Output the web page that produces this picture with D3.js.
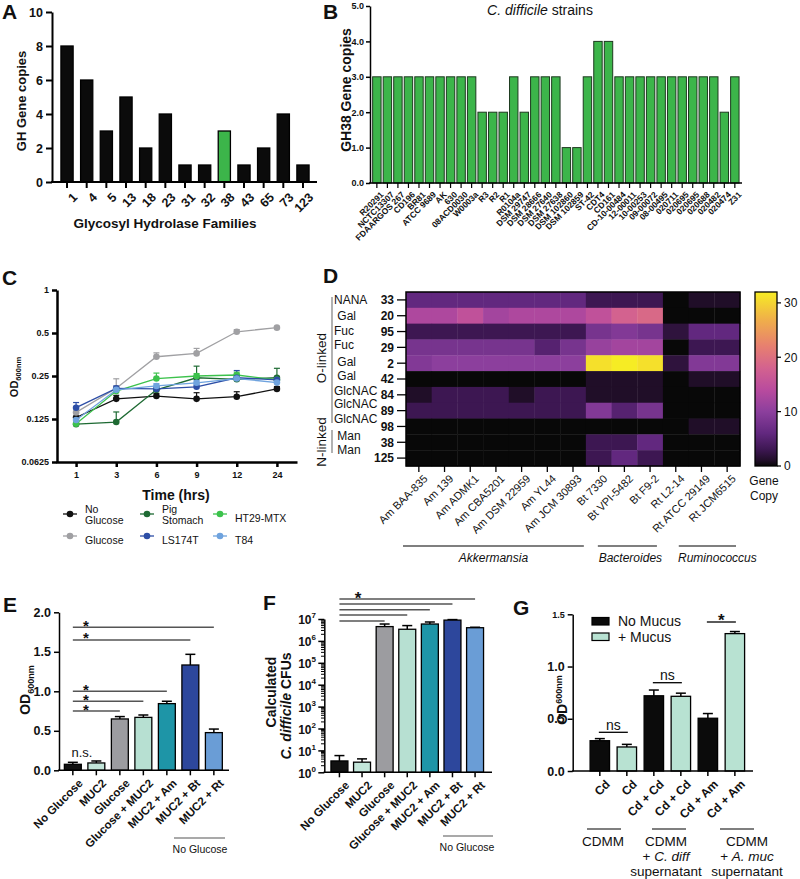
<!DOCTYPE html>
<html><head><meta charset="utf-8">
<script src="https://cdn.jsdelivr.net/npm/d3@7/dist/d3.min.js"></script>
<style>
html,body{margin:0;padding:0;background:#fff;}
svg{display:block;}
text{font-family:"Liberation Sans",Arial,Helvetica,sans-serif;fill:#111;}
</style></head><body>
<svg id="fig" width="800" height="879"></svg>
<script>
// ---------- Panel A ----------
const ghFamilies = ["1","4","5","13","18","23","31","32","38","43","65","73","123"];
const ghCopies = [8,6,3,5,2,4,1,1,3,1,2,4,1];
const ghHighlight = "38";
const ghTicks = [0,2,4,6,8,10];
// ---------- Panel B ----------
const strainNames = ["R20291","NCTC13307","FDAARGOS 267","CD196","BR81","ATCC 9689","AK","630","08ACD0030","W0003a",
  "R3","R2","R1","R0104a","DSM 29747","DSM 28666","DSM 27640","DSM 27638","DSM 102860","DSM 102859","ST-42","CDT4","CD161",
  "CD-10-00484","12-00011","10-00253","09-00072","08-00495","020711","020695","020695","020688","020482","020474","Z31"];
const gh38Copies = [3,3,3,3,3,3,3,3,3,3, 2,2,2, 3, 2, 3, 3,3, 1,1, 3, 4,4, 3,3,3,3,3,3,3,3,3,3, 2, 3];
const gh38Ticks = [0,1,2,3,4,5];
// ---------- Panel C ----------
const timePoints = [1,3,6,9,12,24];
const odTicksC = [0.0625,0.125,0.25,0.5,1];
const odNoGlucose = [0.128,0.173,0.181,0.173,0.179,0.203];
const errNoGlucose = [0.010,0.010,0.008,0.018,0.015,0.008];
const odGlucose = [0.139,0.205,0.341,0.360,0.510,0.545];
const errGlucose = [0.010,0.034,0.022,0.030,0.018,0.008];
const odPigStomach = [0.115,0.119,0.200,0.243,0.237,0.243];
const errPigStomach = [0.006,0.021,0.010,0.050,0.020,0.040];
const odHT29 = [0.116,0.196,0.240,0.250,0.254,0.235];
const errHT29 = [0.004,0.008,0.022,0.010,0.012,0.010];
const odLS174T = [0.150,0.205,0.203,0.210,0.243,0.235];
const errLS174T = [0.013,0.008,0.008,0.010,0.030,0.010];
const odT84 = [0.123,0.200,0.213,0.224,0.240,0.225];
const errT84 = [0.006,0.008,0.008,0.008,0.010,0.008];
// ---------- Panel D ----------
const heatRows = ["33","20","95","29","2","42","84","89","98","38","125"];
const heatSugars = ["NANA"," Gal","Fuc","Fuc"," Gal"," Gal","GlcNAC","GlcNAC","GlcNAC"," Man"," Man"];
const heatColumns = ["Am BAA-835","Am 139","Am ADMK1","Am CBA5201","Am DSM 22959","Am YL44","Am JCM 30893",
  "Bt 7330","Bt VPI-5482","Bt F9-2","Rt L2-14","Rt ATCC 29149","Rt JCM6515"];
const heatValues = [
  [6,6,6,6,6,6,6, 3,3,3, 0,1,1],
  [13,13,15,12,13,13,13, 15,18,19, 0,0,0],
  [3,3,3,3,3,3,3, 8,9,8, 2,6,6],
  [8,8,8,8,8,5,8, 11,12,12, 0,3,3],
  [9,10,10,10,10,10,10, 31,32,31, 2,9,9],
  [0,0,0,0,0,0,0, 1,1,1, 0,1,1],
  [1,3,3,3,1,3,3, 1,1,1, 0,0,0],
  [3,3,3,3,3,3,3, 9,5,8, 0,0,0],
  [0,0,0,0,0,0,0, 0,0,0, 0,1,1],
  [0,0,0,0,0,0,0, 3,3,6, 0,0,0],
  [0,0,0,0,0,0,0, 3,6,3, 0,0,0]
];
const heatGenera = ["Akkermansia","Bacteroides","Ruminococcus"];
const genusSpans = [[0,6],[7,9],[10,12]];
const colorbarTicks = [0,10,20,30];
// ---------- Panel E ----------
const condE = ["No Glucose","MUC2","Glucose","Glucose + MUC2","MUC2 + Am","MUC2 + Bt","MUC2 + Rt"];
const odE = [0.076,0.093,0.65,0.67,0.844,1.333,0.477];
const odErrE = [0.025,0.025,0.03,0.03,0.03,0.135,0.045];
const sigTargetsE = ["MUC2 + Rt","MUC2 + Bt","MUC2 + Am","Glucose + MUC2","Glucose"];
const sigLevelsE = [1.81,1.65,1.0,0.875,0.75];
const ticksE = [0,0.5,1.0,1.5,2.0];
// ---------- Panel F ----------
const cfuF = [3.3,2.9,4.5e6,3.4e6,5.9e6,8.9e6,4.0e6];
const cfuErrF = [2.5,1.2,1.4e6,1.6e6,1.4e6,0.5e6,0.2e6];
const sigTargetsF = ["MUC2 + Rt","MUC2 + Bt","MUC2 + Am","Glucose + MUC2","Glucose"];
const sigLevelsF = [7.91,7.68,7.42,7.18,6.91];
// ---------- Panel G ----------
const labelsG = ["Cd","Cd","Cd + Cd","Cd + Cd","Cd + Am","Cd + Am"];
const odG = [0.29,0.23,0.72,0.715,0.505,1.315];
const odErrG = [0.02,0.025,0.055,0.03,0.045,0.02];
const mucusG = [false,true,false,true,false,true];
const ticksG = [0,0.5,1.0,1.5];
const mediaG = [["CDMM"],["CDMM","+ C. diff","supernatant"],["CDMM","+ A. muc","supernatant"]];

// ================= drawing =================
const svg = d3.select("#fig");
const BLACK = "#0b0b0b";

function styleAxis(g, w, fs, bold){
  g.select(".domain").attr("stroke","#000").attr("stroke-width",w);
  g.selectAll(".tick line").attr("stroke","#000").attr("stroke-width",w);
  g.selectAll(".tick text").attr("font-size",fs).attr("font-weight",bold?"bold":"normal").attr("fill","#111")
   .style("font-family",'"Liberation Sans",Arial,sans-serif');
}
function letter(t,x,y){ svg.append("text").attr("x",x).attr("y",y).attr("font-size",21).attr("font-weight","bold").text(t); }
letter("A",2,19); letter("B",323,19); letter("C",2,285); letter("D",323,283);
letter("E",3,612); letter("F",263,610); letter("G",513,615);

// ---------- A ----------
(function(){
  const g = svg.append("g");
  const x = d3.scaleBand().domain(ghFamilies).range([57,313]).paddingInner(0.38).paddingOuter(0.2);
  const y = d3.scaleLinear().domain([0,10]).range([182,12]);
  g.selectAll("rect").data(ghFamilies).join("rect")
    .attr("x",d=>x(d)).attr("y",(d,i)=>y(ghCopies[i])).attr("width",x.bandwidth())
    .attr("height",(d,i)=>y(0)-y(ghCopies[i]))
    .attr("fill",d=>d===ghHighlight?"#3cb54a":BLACK).attr("stroke","#000").attr("stroke-width",1.3);
  const ya = g.append("g").attr("transform","translate(52,0)").call(d3.axisLeft(y).tickValues(ghTicks).tickSize(6).tickSizeOuter(0).tickPadding(3));
  styleAxis(ya,2,12.5,true);
  g.append("line").attr("x1",51).attr("x2",317).attr("y1",182).attr("y2",182).attr("stroke","#000").attr("stroke-width",2);
  ghFamilies.forEach(d=>{
    const cx = x(d)+x.bandwidth()/2;
    g.append("line").attr("x1",cx).attr("x2",cx).attr("y1",182).attr("y2",188).attr("stroke","#000").attr("stroke-width",2);
    g.append("text").attr("transform",`translate(${cx+5},${192}) rotate(-45)`).attr("text-anchor","end").attr("dy","0.7em")
      .attr("font-size",12.5).attr("font-weight","bold").text(d);
  });
  g.append("text").attr("x",165).attr("y",228).attr("text-anchor","middle").attr("font-size",13.5).attr("font-weight","bold").text("Glycosyl Hydrolase Families");
  g.append("text").attr("transform","translate(26,101) rotate(-90)").attr("text-anchor","middle").attr("font-size",13).attr("font-weight","bold").text("GH Gene copies");
})();

// ---------- B ----------
(function(){
  const g = svg.append("g");
  const idx = d3.range(strainNames.length);
  const x = d3.scaleBand().domain(idx).range([371.6,740.1]).paddingInner(0.2).paddingOuter(0.1);
  const y = d3.scaleLinear().domain([0,5]).range([183,6]);
  g.selectAll("rect").data(idx).join("rect")
    .attr("x",i=>x(i)).attr("y",i=>y(gh38Copies[i])).attr("width",x.bandwidth())
    .attr("height",i=>y(0)-y(gh38Copies[i]))
    .attr("fill","#3cb54a").attr("stroke","#1d3a1f").attr("stroke-width",1);
  const ya = g.append("g").attr("transform","translate(370,0)").call(d3.axisLeft(y).tickValues(gh38Ticks).tickSize(4).tickSizeOuter(0).tickPadding(2));
  styleAxis(ya,1.5,9,true);
  g.append("line").attr("x1",369).attr("x2",742).attr("y1",183).attr("y2",183).attr("stroke","#000").attr("stroke-width",1.5);
  idx.forEach(i=>{
    const cx = x(i)+x.bandwidth()/2;
    g.append("line").attr("x1",cx).attr("x2",cx).attr("y1",183).attr("y2",188).attr("stroke","#000").attr("stroke-width",1.2);
    g.append("text").attr("transform",`translate(${cx+3},${191}) rotate(-45)`).attr("text-anchor","end").attr("dy","0.7em")
      .attr("font-size",8.5).attr("font-weight","bold").text(strainNames[i]);
  });
  const t = g.append("text").attr("x",540).attr("y",15).attr("text-anchor","middle").attr("font-size",14);
  t.append("tspan").attr("font-style","italic").text("C. difficile");
  t.append("tspan").text(" strains");
  g.append("text").attr("transform","translate(351,90) rotate(-90)").attr("text-anchor","middle").attr("font-size",14).attr("font-weight","bold").text("GH38 Gene copies");
})();

// ---------- C ----------
(function(){
  const g = svg.append("g");
  const x = d3.scalePoint().domain(timePoints).range([56,297]).padding(0.5);
  const y = d3.scaleLog().base(2).domain([0.0625,1]).range([462,290]);
  const ya = g.append("g").attr("transform","translate(57,0)").call(d3.axisLeft(y).tickValues(odTicksC).tickFormat(d=>String(d)).tickSize(5).tickSizeOuter(0).tickPadding(3));
  styleAxis(ya,2.5,9,true);
  const xa = g.append("g").attr("transform","translate(0,462)").call(d3.axisBottom(x).tickSize(5).tickSizeOuter(0).tickPadding(5));
  styleAxis(xa,2.5,9,true);
  const series = [
    {name:"No Glucose", v:odNoGlucose, e:errNoGlucose, c:"#111111"},
    {name:"Glucose", v:odGlucose, e:errGlucose, c:"#a0a0a3"},
    {name:"Pig Stomach", v:odPigStomach, e:errPigStomach, c:"#1e6a33"},
    {name:"HT29-MTX", v:odHT29, e:errHT29, c:"#3cc24c"},
    {name:"LS174T", v:odLS174T, e:errLS174T, c:"#2d4ea6"},
    {name:"T84", v:odT84, e:errT84, c:"#6fa3de"}
  ];
  const line = d3.line().x((d,i)=>x(timePoints[i])).y(d=>y(d));
  series.forEach(s=>{
    s.v.forEach((v,i)=>{
      const cx = x(timePoints[i]), y0 = y(v), y1 = y(v+s.e[i]);
      g.append("line").attr("x1",cx).attr("x2",cx).attr("y1",y0).attr("y2",y1).attr("stroke",s.c).attr("stroke-width",1.2);
      g.append("line").attr("x1",cx-3).attr("x2",cx+3).attr("y1",y1).attr("y2",y1).attr("stroke",s.c).attr("stroke-width",1.2);
    });
  });
  series.forEach(s=>{
    g.append("path").datum(s.v).attr("d",line).attr("fill","none").attr("stroke",s.c).attr("stroke-width",1.3);
    g.selectAll(null).data(s.v).join("circle").attr("cx",(d,i)=>x(timePoints[i])).attr("cy",d=>y(d)).attr("r",3.3).attr("fill",s.c);
  });
  g.append("text").attr("x",176).attr("y",500).attr("text-anchor","middle").attr("font-size",14).attr("font-weight","bold").text("Time (hrs)");
  const t = g.append("text").attr("transform","translate(18,377) rotate(-90)").attr("text-anchor","middle").attr("font-size",11).attr("font-weight","bold");
  t.append("tspan").text("OD"); t.append("tspan").attr("font-size",7.5).attr("dy",3).text("600nm");
  // legend
  const legPos = [[70,[509,520],["No","Glucose"]],[70,[540],["Glucose"]],[147,[509,520],["Pig","Stomach"]],[220,[518],["HT29-MTX"]],[147,[540],["LS174T"]],[220,[540],["T84"]]];
  const legY = [514,536,514,514,536,536];
  series.forEach((s,i)=>{
    const [mx,ys,lines] = legPos[i];
    const my = legY[i];
    g.append("line").attr("x1",mx-7).attr("x2",mx+7).attr("y1",my).attr("y2",my).attr("stroke",s.c).attr("stroke-width",1.3);
    g.append("circle").attr("cx",mx).attr("cy",my).attr("r",3.3).attr("fill",s.c);
    lines.forEach((l,k)=>g.append("text").attr("x",mx+15).attr("y",ys[k]+4).attr("font-size",10.5).text(l));
  });
})();

// ---------- D ----------
(function(){
  const g = svg.append("g");
  const x = d3.scaleBand().domain(heatColumns).range([406,740]);
  const y = d3.scaleBand().domain(heatRows).range([292,466]);
  const color = d3.scaleLinear()
    .domain([0,1,3,6,10,14,18,22,27,32])
    .range(["#080808","#200e28","#3d1752","#62287f","#8c3f9d","#b94b9e","#d3628f","#e77f70","#f0b049","#f6ec24"])
    .interpolate(d3.interpolateRgb).clamp(true);
  heatRows.forEach((r,ri)=>heatColumns.forEach((c,ci)=>{
    g.append("rect").attr("x",x(c)).attr("y",y(r)).attr("width",x.bandwidth()+0.4).attr("height",y.bandwidth()+0.4)
     .attr("fill",color(heatValues[ri][ci]));
  }));
  g.append("rect").attr("x",406).attr("y",292).attr("width",334).attr("height",174).attr("fill","none").attr("stroke","#000").attr("stroke-width",1.5);
  heatRows.forEach((r,ri)=>{
    const cy = y(r)+y.bandwidth()/2;
    g.append("line").attr("x1",397).attr("x2",406).attr("y1",cy).attr("y2",cy).attr("stroke","#000").attr("stroke-width",1.3);
    g.append("text").attr("x",394).attr("y",cy).attr("dy","0.36em").attr("text-anchor","end").attr("font-size",12).attr("font-weight","bold").text(r);
  });
  const sugarY = [300,315.7,330.3,345,361.7,375.7,391,403.7,419,435.7,450];
  heatSugars.forEach((s,i)=>{
    g.append("text").attr("x",334).attr("y",sugarY[i]).attr("dy","0.36em").attr("font-size",12).style("white-space","pre").text(s);
  });
  g.append("line").attr("x1",332).attr("x2",332).attr("y1",297).attr("y2",423).attr("stroke","#888").attr("stroke-width",1.3);
  g.append("line").attr("x1",332).attr("x2",332).attr("y1",430).attr("y2",453).attr("stroke","#888").attr("stroke-width",1.3);
  g.append("text").attr("transform","translate(326,358) rotate(-90)").attr("text-anchor","middle").attr("font-size",13.5).text("O-linked");
  g.append("text").attr("transform","translate(326,442) rotate(-90)").attr("text-anchor","middle").attr("font-size",13.5).text("N-linked");
  heatColumns.forEach(c=>{
    const cx = x(c)+x.bandwidth()/2;
    g.append("line").attr("x1",cx).attr("x2",cx).attr("y1",466).attr("y2",472).attr("stroke","#000").attr("stroke-width",1.3);
    g.append("text").attr("transform",`translate(${cx+4},${474}) rotate(-45)`).attr("text-anchor","end").attr("dy","0.7em")
      .attr("font-size",11).text(c);
  });
  const bw = x.bandwidth();
  const lineInsets = [[-3,2],[12,6],[bw/2+3,4]];
  const textShift = [0,3,10];
  heatGenera.forEach((gn,i)=>{
    const [a,b] = genusSpans[i];
    const x1 = x(heatColumns[a])+lineInsets[i][0], x2 = x(heatColumns[b])+bw-lineInsets[i][1];
    g.append("line").attr("x1",x1).attr("x2",x2).attr("y1",546).attr("y2",546).attr("stroke","#000").attr("stroke-width",1.2);
    g.append("text").attr("x",(x1+x2)/2+textShift[i]).attr("y",562).attr("text-anchor","middle").attr("font-size",12).attr("font-style","italic").text(gn);
  });
  // colorbar
  const defs = svg.append("defs");
  const grad = defs.append("linearGradient").attr("id","cbar").attr("x1",0).attr("y1",1).attr("x2",0).attr("y2",0);
  color.domain().forEach(v=>grad.append("stop").attr("offset",v/32).attr("stop-color",color(v)));
  const cy = d3.scaleLinear().domain([0,32]).range([466,292]);
  g.append("rect").attr("x",755).attr("y",292).attr("width",22).attr("height",174).attr("fill","url(#cbar)").attr("stroke","#000").attr("stroke-width",1.3);
  colorbarTicks.forEach(v=>{
    g.append("line").attr("x1",777).attr("x2",781).attr("y1",cy(v)).attr("y2",cy(v)).attr("stroke","#000").attr("stroke-width",1.2);
    g.append("text").attr("x",784).attr("y",cy(v)).attr("dy","0.36em").attr("font-size",12).text(v);
  });
  g.append("text").attr("x",764).attr("y",485).attr("text-anchor","middle").attr("font-size",12).text("Gene");
  g.append("text").attr("x",764).attr("y",500).attr("text-anchor","middle").attr("font-size",12).text("Copy");
})();

// ---------- helpers for bar panels ----------
function xTickLabels(g, x, keys, labels, y0, fs){
  keys.forEach((k,i)=>{
    const cx = x(k)+x.bandwidth()/2;
    g.append("line").attr("x1",cx).attr("x2",cx).attr("y1",y0).attr("y2",y0+5).attr("stroke","#000").attr("stroke-width",1.5);
    g.append("text").attr("transform",`translate(${cx+5},${y0+8}) rotate(-45)`).attr("text-anchor","end").attr("dy","0.7em")
      .attr("font-size",fs).attr("font-weight","bold").text(labels[i]);
  });
}
const colorsE = ["#111111","#c3e6da","#9c9ca0","#b7e0d2","#1e95a7","#2d479c","#6a9dd6"];

// ---------- E ----------
(function(){
  const g = svg.append("g");
  const x = d3.scaleBand().domain(condE).range([58.5,228.2]).paddingInner(0.28).paddingOuter(0.25);
  const y = d3.scaleLinear().domain([0,2]).range([770.3,612.3]);
  condE.forEach((c,i)=>{
    const cx = x(c)+x.bandwidth()/2, yt = y(odE[i]+odErrE[i]);
    g.append("line").attr("x1",cx).attr("x2",cx).attr("y1",y(odE[i])).attr("y2",yt).attr("stroke","#000").attr("stroke-width",1.5);
    g.append("line").attr("x1",cx-5).attr("x2",cx+5).attr("y1",yt).attr("y2",yt).attr("stroke","#000").attr("stroke-width",1.5);
  });
  g.selectAll("rect").data(condE).join("rect").attr("x",d=>x(d)).attr("y",(d,i)=>y(odE[i])).attr("width",x.bandwidth())
    .attr("height",(d,i)=>y(0)-y(odE[i])).attr("fill",(d,i)=>colorsE[i]).attr("stroke","#000").attr("stroke-width",1.3);
  const ya = g.append("g").attr("transform","translate(59,0)").call(d3.axisLeft(y).tickValues(ticksE).tickFormat(d3.format(".1f")).tickSize(5).tickSizeOuter(0).tickPadding(3));
  styleAxis(ya,1.5,12.5,true);
  g.append("line").attr("x1",58).attr("x2",229).attr("y1",770.3).attr("y2",770.3).attr("stroke","#000").attr("stroke-width",1.5);
  xTickLabels(g,x,condE,condE,770.3,11.5);
  const x0 = x(condE[0])+x.bandwidth()/2;
  sigTargetsE.forEach((t,i)=>{
    const x1 = x(t)+x.bandwidth()/2, ly = y(sigLevelsE[i]);
    g.append("line").attr("x1",x0).attr("x2",x1).attr("y1",ly).attr("y2",ly).attr("stroke","#555").attr("stroke-width",1.5);
    g.append("text").attr("x",86).attr("y",ly+3.5).attr("text-anchor","middle").attr("font-size",15).attr("font-weight","bold").text("*");
  });
  g.append("text").attr("x",82).attr("y",757).attr("text-anchor","middle").attr("font-size",13).attr("fill","#333").text("n.s.");
  g.append("line").attr("x1",174).attr("x2",225).attr("y1",838).attr("y2",838).attr("stroke","#555").attr("stroke-width",1.2);
  g.append("text").attr("x",200).attr("y",853).attr("text-anchor","middle").attr("font-size",10.5).text("No Glucose");
  const t = g.append("text").attr("transform","translate(30,690) rotate(-90)").attr("text-anchor","middle").attr("font-size",14).attr("font-weight","bold");
  t.append("tspan").text("OD"); t.append("tspan").attr("font-size",9).attr("dy",4).text("600nm");
})();

// ---------- F ----------
(function(){
  const g = svg.append("g");
  const x = d3.scaleBand().domain(condE).range([325.3,489.2]).paddingInner(0.25).paddingOuter(0.25);
  const y = d3.scaleLog().domain([1,1e7]).range([772.3,619]);
  condE.forEach((c,i)=>{
    const cx = x(c)+x.bandwidth()/2, yt = y(cfuF[i]+cfuErrF[i]);
    g.append("line").attr("x1",cx).attr("x2",cx).attr("y1",y(cfuF[i])).attr("y2",yt).attr("stroke","#000").attr("stroke-width",1.5);
    g.append("line").attr("x1",cx-5).attr("x2",cx+5).attr("y1",yt).attr("y2",yt).attr("stroke","#000").attr("stroke-width",1.5);
  });
  g.selectAll("rect").data(condE).join("rect").attr("x",d=>x(d)).attr("y",(d,i)=>y(cfuF[i])).attr("width",x.bandwidth())
    .attr("height",(d,i)=>y(1)-y(cfuF[i])).attr("fill",(d,i)=>colorsE[i]).attr("stroke","#000").attr("stroke-width",1.3);
  const majors = d3.range(0,8).map(e=>Math.pow(10,e));
  const minors = [];
  d3.range(0,7).forEach(e=>d3.range(2,10).forEach(m=>minors.push(m*Math.pow(10,e))));
  const ya = g.append("g").attr("transform","translate(324.3,0)").call(d3.axisLeft(y).tickValues(majors).tickFormat("").tickSize(6).tickSizeOuter(0));
  styleAxis(ya,1.5,12,true);
  minors.forEach(v=>g.append("line").attr("x1",321).attr("x2",324.3).attr("y1",y(v)).attr("y2",y(v)).attr("stroke","#000").attr("stroke-width",1));
  majors.forEach((v,e)=>{
    const t = g.append("text").attr("x",316).attr("y",y(v)).attr("dy","0.45em").attr("text-anchor","end").attr("font-size",12).attr("font-weight","bold");
    t.append("tspan").text("10");
    t.append("tspan").attr("font-size",8).attr("dy",-6).text(e);
  });
  g.append("line").attr("x1",323.5).attr("x2",492).attr("y1",772.3).attr("y2",772.3).attr("stroke","#000").attr("stroke-width",1.5);
  xTickLabels(g,x,condE,condE,772.3,11.5);
  const x0 = x(condE[0])+x.bandwidth()/2;
  sigTargetsF.forEach((t,i)=>{
    const x1 = x(t)+x.bandwidth()/2, ly = y(Math.pow(10,sigLevelsF[i]));
    g.append("line").attr("x1",x0).attr("x2",x1).attr("y1",ly).attr("y2",ly).attr("stroke","#555").attr("stroke-width",1.5);
  });
  g.append("text").attr("x",358).attr("y",604).attr("text-anchor","middle").attr("font-size",17).attr("font-weight","bold").text("*");
  g.append("line").attr("x1",443).attr("x2",493).attr("y1",836).attr("y2",836).attr("stroke","#555").attr("stroke-width",1.2);
  g.append("text").attr("x",467).attr("y",851).attr("text-anchor","middle").attr("font-size",10.5).text("No Glucose");
  g.append("text").attr("transform","translate(276,692) rotate(-90)").attr("text-anchor","middle").attr("font-size",14).attr("font-weight","bold").text("Calculated");
  const t2 = g.append("text").attr("transform","translate(291,706) rotate(-90)").attr("text-anchor","middle").attr("font-size",14).attr("font-weight","bold");
  t2.append("tspan").attr("font-style","italic").text("C. difficile");
  t2.append("tspan").text(" CFUs");
})();

// ---------- G ----------
(function(){
  const g = svg.append("g");
  const idx = d3.range(labelsG.length);
  const x = d3.scaleBand().domain(idx).range([582,752.7]).paddingInner(0.28).paddingOuter(0.3);
  const y = d3.scaleLinear().domain([0,1.5]).range([771,614.3]);
  idx.forEach(i=>{
    const cx = x(i)+x.bandwidth()/2, yt = y(odG[i]+odErrG[i]);
    g.append("line").attr("x1",cx).attr("x2",cx).attr("y1",y(odG[i])).attr("y2",yt).attr("stroke","#000").attr("stroke-width",1.5);
    g.append("line").attr("x1",cx-5).attr("x2",cx+5).attr("y1",yt).attr("y2",yt).attr("stroke","#000").attr("stroke-width",1.5);
  });
  g.selectAll("rect").data(idx).join("rect").attr("x",i=>x(i)).attr("y",i=>y(odG[i])).attr("width",x.bandwidth())
    .attr("height",i=>y(0)-y(odG[i])).attr("fill",i=>mucusG[i]?"#b8e2d2":"#0b0b0b").attr("stroke","#000").attr("stroke-width",1.3);
  const ya = g.append("g").attr("transform","translate(572.7,0)").call(d3.axisLeft(y).tickValues(ticksG).tickFormat(d3.format(".1f")).tickSize(5).tickSizeOuter(0).tickPadding(3));
  styleAxis(ya,1.5,12.5,true);
  ya.selectAll(".tick text").filter(d=>d===1.5).attr("font-size",9);
  g.append("line").attr("x1",572).attr("x2",753).attr("y1",771).attr("y2",771).attr("stroke","#000").attr("stroke-width",1.5);
  xTickLabels(g,x,idx,labelsG,771,12);
  // legend
  g.append("rect").attr("x",592).attr("y",617.5).attr("width",17).attr("height",7.5).attr("fill","#0b0b0b").attr("stroke","#000").attr("stroke-width",1.2);
  g.append("text").attr("x",618).attr("y",626).attr("font-size",14).text("No Mucus");
  g.append("rect").attr("x",592).attr("y",633).attr("width",17).attr("height",7.5).attr("fill","#b8e2d2").attr("stroke","#000").attr("stroke-width",1.2);
  g.append("text").attr("x",618).attr("y",642).attr("font-size",14).text("+ Mucus");
  // significance
  const cxOf = i=>x(i)+x.bandwidth()/2;
  const sig = [[0,1,732.3,"ns",730],[2,3,682.7,"ns",680],[4,5,622,"*",626]];
  sig.forEach(([a,b,ly,txt,ty])=>{
    g.append("line").attr("x1",cxOf(a)-1).attr("x2",cxOf(b)+1).attr("y1",ly).attr("y2",ly).attr("stroke","#000").attr("stroke-width",1.3);
    g.append("text").attr("x",(cxOf(a)+cxOf(b))/2).attr("y",ty).attr("text-anchor","middle")
      .attr("font-size",txt==="*"?17:14).attr("font-weight",txt==="*"?"bold":"normal").text(txt);
  });
  // media groups
  const lineCenters = [604,669,737];
  const textCenters = [603,666,747];
  mediaG.forEach((lines,k)=>{
    g.append("line").attr("x1",lineCenters[k]-17).attr("x2",lineCenters[k]+17).attr("y1",829).attr("y2",829).attr("stroke","#000").attr("stroke-width",1.2);
    lines.forEach((l,j)=>{
      const t = g.append("text").attr("x",textCenters[k]).attr("y",846+j*15).attr("text-anchor","middle").attr("font-size",13.5);
      if(l.startsWith("+ ")){ t.append("tspan").text("+ "); t.append("tspan").attr("font-style","italic").text(l.slice(2)); }
      else t.text(l);
    });
  });
  const t = g.append("text").attr("transform","translate(567,700) rotate(-90)").attr("text-anchor","middle").attr("font-size",14).attr("font-weight","bold");
  t.append("tspan").text("OD"); t.append("tspan").attr("font-size",9).attr("dy",-5).text("600nm");
})();
</script>
</body></html>
